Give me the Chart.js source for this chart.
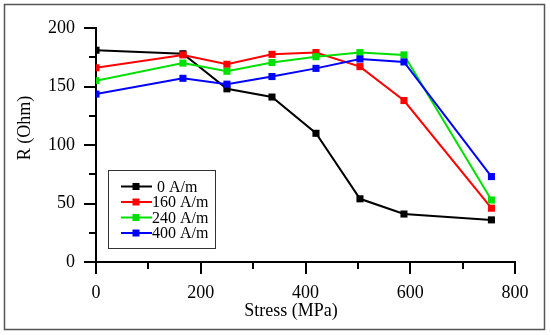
<!DOCTYPE html>
<html>
<head>
<meta charset="utf-8">
<script src="https://cdn.jsdelivr.net/npm/chart.js@4"></script>
<style>
  body { margin: 0; background: #fff; }
  #wrap { width: 550px; height: 335px; position: relative; }
</style>
</head>
<body>
<div id="wrap"><canvas id="chart" width="550" height="335"></canvas></div>
<script>
// stress values (MPa)
var stress = [0, 166, 250, 336, 420, 504, 588, 755];
var seriesNames = ['0 A/m', '160 A/m', '240 A/m', '400 A/m'];
var r0 = [181, 178, 148, 141, 110, 54, 41, 36];
var r160 = [166, 177, 169, 177.5, 179, 167, 138, 46];
var r240 = [155, 170, 163, 170.5, 175.5, 179, 177, 53];
var r400 = [143.5, 157, 152, 158.5, 165.5, 173.5, 171, 73];
var colors = ['#000000', '#ff0000', '#00e000', '#0000ff'];
var yTicks = [0, 50, 100, 150, 200];
var xTicks = [0, 200, 400, 600, 800];
var xTitle = 'Stress (MPa)';
var yTitle = 'R (Ohm)';

var serif = "'Liberation Serif', 'DejaVu Serif', serif";

function makeSet(i, vals) {
    return {
        label: seriesNames[i],
        data: stress.map(function (s, k) { return { x: s, y: vals[k] }; }),
        borderColor: colors[i],
        backgroundColor: colors[i],
        borderWidth: 2,
        pointStyle: 'rect',
        pointRadius: 5,
        pointBorderWidth: 0,
        order: 4 - i
    };
}

// draws major + minor tick marks, axis titles, the outer frame and the legend box
var decorPlugin = {
    id: 'decor',
    beforeDraw: function (chart) {
        var ctx = chart.ctx;
        ctx.save();
        ctx.fillStyle = '#fff';
        ctx.fillRect(0, 0, chart.width, chart.height);
        ctx.strokeStyle = '#555';
        ctx.lineWidth = 1.5;
        ctx.strokeRect(4.5, 4.5, 540, 325);
        ctx.restore();
    },
    afterDraw: function (chart) {
        var ctx = chart.ctx;
        var xs = chart.scales.x, ys = chart.scales.y;
        var area = chart.chartArea;
        ctx.save();
        ctx.strokeStyle = '#000';
        ctx.lineWidth = 2;
        ctx.beginPath();
        for (var v = 0; v <= 200; v += 25) {
            var py = Math.round(ys.getPixelForValue(v));
            var len = v % 50 === 0 ? 12 : 7;
            ctx.moveTo(area.left, py);
            ctx.lineTo(area.left - len, py);
        }
        for (var u = 0; u <= 800; u += 100) {
            var px = Math.round(xs.getPixelForValue(u));
            var l2 = u % 200 === 0 ? 12 : 7;
            ctx.moveTo(px, area.bottom);
            ctx.lineTo(px, area.bottom + l2);
        }
        ctx.stroke();

        // axis titles
        ctx.fillStyle = '#000';
        ctx.font = '18px ' + serif;
        ctx.textAlign = 'center';
        ctx.textBaseline = 'middle';
        ctx.fillText(xTitle, 291, 311);
        ctx.save();
        ctx.translate(25, 128);
        ctx.rotate(-Math.PI / 2);
        ctx.fillText(yTitle, 0, 0);
        ctx.restore();

        // legend
        var bx = 108, by = 170, bw = 107, bh = 78;
        ctx.textAlign = 'left';
        ctx.lineWidth = 1;
        ctx.strokeStyle = '#333';
        ctx.strokeRect(bx + 0.5, by + 0.5, bw, bh);
        ctx.font = '16px ' + serif;
        chart.data.datasets.forEach(function (ds, i) {
            var ly = 186.5 + i * 15.5;
            ctx.strokeStyle = ds.borderColor;
            ctx.lineWidth = 2;
            ctx.beginPath();
            ctx.moveTo(121, ly);
            ctx.lineTo(152, ly);
            ctx.stroke();
            ctx.fillStyle = ds.borderColor;
            ctx.fillRect(132.5, ly - 3.5, 7, 7);
            ctx.fillStyle = '#000';
            ctx.fillText(ds.label, i === 0 ? 157 : 152, ly + 1);
        });
        ctx.restore();
    }
};

new Chart(document.getElementById('chart'), {
    type: 'line',
    data: {
        datasets: [makeSet(0, r0), makeSet(1, r160), makeSet(2, r240), makeSet(3, r400)]
    },
    options: {
        responsive: false,
        animation: false,
        layout: { padding: { top: 28, right: 35, left: 0, bottom: 0 } },
        plugins: { legend: { display: false }, tooltip: { enabled: false } },
        scales: {
            x: {
                type: 'linear',
                min: 0,
                max: 800,
                afterBuildTicks: function (scale) {
                    scale.ticks = xTicks.map(function (v) { return { value: v }; });
                },
                afterFit: function (scale) {
                    scale.height = 73;
                    scale.paddingLeft = 0;
                    scale.paddingRight = 0;
                },
                grid: { display: false, drawTicks: false },
                border: { display: true, color: '#000', width: 2 },
                ticks: {
                    padding: 20,
                    maxRotation: 0,
                    autoSkip: false,
                    color: '#000',
                    font: { family: serif, size: 18 }
                }
            },
            y: {
                type: 'linear',
                min: 0,
                max: 200,
                afterBuildTicks: function (scale) {
                    scale.ticks = yTicks.map(function (v) { return { value: v }; });
                },
                afterFit: function (scale) {
                    scale.width = 96;
                    scale.paddingTop = 0;
                    scale.paddingBottom = 0;
                },
                grid: { display: false, drawTicks: false },
                border: { display: true, color: '#000', width: 2 },
                ticks: {
                    padding: 21,
                    autoSkip: false,
                    color: '#000',
                    font: { family: serif, size: 18 }
                }
            }
        }
    },
    plugins: [decorPlugin]
});
</script>
</body>
</html>
